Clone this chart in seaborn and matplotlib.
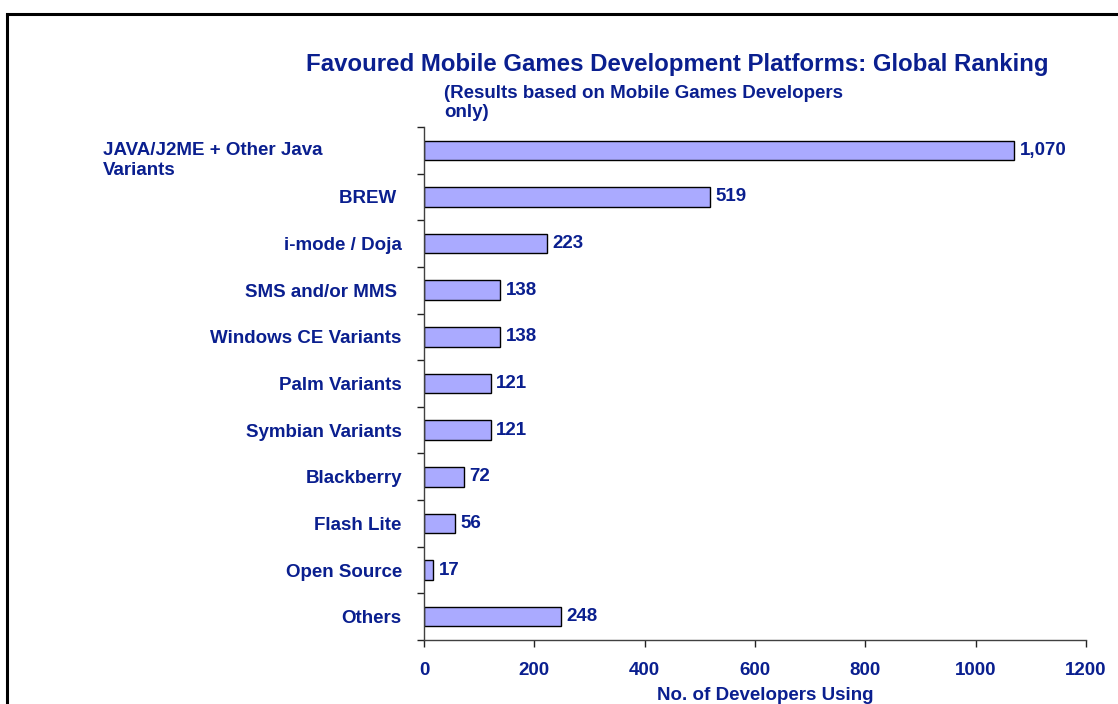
import matplotlib
matplotlib.use('Agg')
import matplotlib.pyplot as plt
import seaborn as sns
import pandas as pd
from matplotlib.lines import Line2D
from matplotlib.ticker import FixedLocator

categories = ["JAVA/J2ME + Other Java\nVariants", "BREW ", "i-mode / Doja", "SMS and/or MMS ",
              "Windows CE Variants", "Palm Variants", "Symbian Variants", "Blackberry",
              "Flash Lite", "Open Source", "Others"]
values = [1070, 519, 223, 138, 138, 121, 121, 72, 56, 17, 248]
xticks = [0, 200, 400, 600, 800, 1000, 1200]
title = "Favoured Mobile Games Development Platforms: Global Ranking"
subtitle = "(Results based on Mobile Games Developers\nonly)"
xlabel = "No. of Developers Using"

sns.set_theme(style='white')
plt.rcParams['font.family'] = ['Liberation Sans', 'DejaVu Sans']
NAVY = '#0A1F8F'
W, H = 1118, 704
FS = 13.5

fig = plt.figure(figsize=(W / 100, H / 100), dpi=100)
fig.patch.set_facecolor('white')
ax = fig.add_axes([424 / W, 1 - 640 / H, 662 / W, 513 / H])

df = pd.DataFrame({'platform': categories, 'developers': values})
sns.barplot(data=df, y='platform', x='developers', orient='h', color='#AAAAFF',
            saturation=1, edgecolor='black', linewidth=1, width=0.42, ax=ax)

ax.set_xlim(0, 1200)
ax.set_ylim(len(categories) - 0.5, -0.5)
ax.set_xticks(xticks)
ax.set_xticklabels([str(t) for t in xticks])
ax.set_xlabel('')
ax.set_ylabel('')
for s in ['top', 'right']:
    ax.spines[s].set_visible(False)
for s in ['left', 'bottom']:
    ax.spines[s].set_color('#404040')
    ax.spines[s].set_linewidth(1)

# y labels
ylabels = [c for c in categories]
ylabels[0] = ''
ax.set_yticks(range(len(categories)))
ax.set_yticklabels(ylabels)
ax.yaxis.set_minor_locator(FixedLocator([i - 0.5 for i in range(len(categories) + 1)]))
ax.tick_params(axis='y', which='major', length=0, pad=16, labelsize=FS, labelcolor=NAVY)
ax.tick_params(axis='y', which='minor', length=5, width=1, color='#222222', direction='out', left=True)
ax.tick_params(axis='x', which='major', length=5, width=1, color='#222222', direction='out', bottom=True,
               pad=10.5, labelsize=FS, labelcolor=NAVY)
for lab in ax.get_yticklabels() + ax.get_xticklabels():
    lab.set_fontweight('bold')

ax.bar_label(ax.containers[0], labels=[f"{v:,}" for v in values], padding=4,
             fontweight='bold', color=NAVY, fontsize=FS)

fig.text(103 / W, 1 - 142 / H, categories[0], ha='left', va='top', fontsize=FS,
         fontweight='bold', color=NAVY, linespacing=1.2)

fig.text(677 / W, 1 - 65 / H, title, ha='center', va='center', fontsize=17.3,
         fontweight='bold', color=NAVY)
fig.text(444 / W, 1 - 84.5 / H, subtitle, ha='left', va='top', fontsize=FS,
         fontweight='bold', color=NAVY, linespacing=1.2)
fig.text(765 / W, 1 - 686.5 / H, xlabel, ha='center', va='top', fontsize=FS,
         fontweight='bold', color=NAVY)

# figure border
fig.add_artist(Line2D([6.5 / W, 6.5 / W], [0, 1 - 14 / H], transform=fig.transFigure,
                      color='black', lw=2.2))
fig.add_artist(Line2D([6.5 / W, 1.0], [1 - 14 / H, 1 - 14 / H], transform=fig.transFigure,
                      color='black', lw=2.2, solid_capstyle='projecting'))

fig.savefig('out.png', dpi=100)
